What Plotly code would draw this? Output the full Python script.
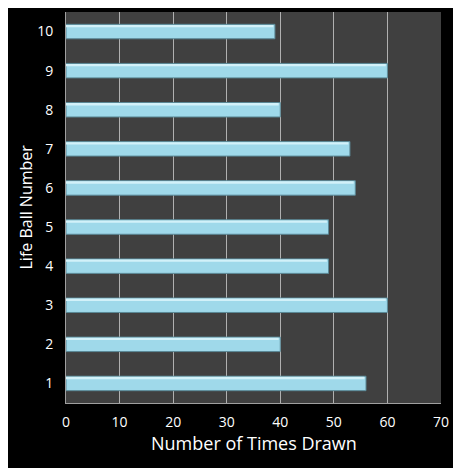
import plotly.graph_objects as go

# life ball frequency
life_balls = [1, 2, 3, 4, 5, 6, 7, 8, 9, 10]
times_drawn = [56, 40, 60, 49, 49, 54, 53, 40, 60, 39]
x_ticks = [0, 10, 20, 30, 40, 50, 60, 70]

x_title = "Number of Times Drawn"
y_title = "Life Ball Number"

font_family = "Open Sans, DejaVu Sans, sans-serif"

fig = go.Figure()

# main bar body
fig.add_trace(
    go.Bar(
        x=times_drawn,
        y=life_balls,
        orientation="h",
        width=0.37,
        marker=dict(color="#9fd9ea", line=dict(color="#5a8896", width=1)),
        hoverinfo="x+y",
    )
)
# light strip along the top edge so the bar looks a bit rounded
fig.add_trace(
    go.Bar(
        x=[v - 0.3 for v in times_drawn],
        y=life_balls,
        orientation="h",
        width=0.06,
        offset=0.11,
        marker=dict(color="#d2f1f9", line=dict(width=0)),
        hoverinfo="skip",
    )
)

# axis titles as annotations, standoff wasn't moving them
fig.add_annotation(
    text=x_title, xref="paper", yref="paper", x=0.5, y=0,
    xanchor="center", yanchor="middle", yshift=-40,
    showarrow=False, font=dict(size=18),
)
fig.add_annotation(
    text=y_title, xref="paper", yref="paper", x=0, y=0.5,
    xanchor="center", yanchor="middle", xshift=-41, textangle=-90,
    showarrow=False, font=dict(size=16),
)

# the page body has an 8px margin, so the margins here are shifted to compensate
fig.update_layout(
    width=461,
    height=468,
    paper_bgcolor="#000000",
    plot_bgcolor="#404040",
    barmode="overlay",
    showlegend=False,
    margin=dict(l=58, r=28, t=4, b=73),
    font=dict(family=font_family, color="#ffffff", size=14),
    xaxis=dict(
        range=[0, 70],
        tickvals=x_ticks,
        showgrid=True,
        gridcolor="#b0b0b0",
        gridwidth=1,
        zeroline=False,
        showline=True,
        linecolor="#a0a0a0",
        linewidth=1,
        ticks="",
        ticklabelstandoff=6,
    ),
    yaxis=dict(
        range=[0.5, 10.5],
        tickvals=life_balls,
        showgrid=False,
        zeroline=False,
        showline=True,
        linecolor="#a0a0a0",
        linewidth=1,
        ticks="",
        ticklabelstandoff=9,
    ),
)

fig.write_html("out.html")
